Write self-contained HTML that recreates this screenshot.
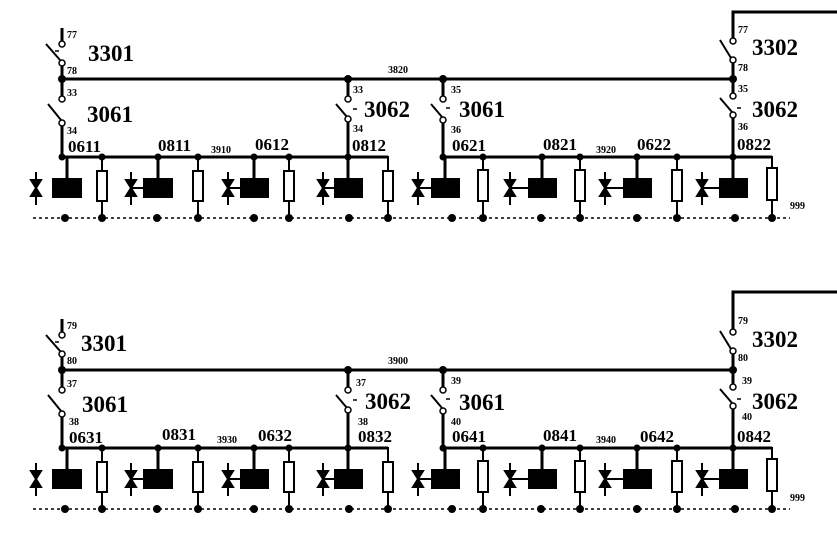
<!DOCTYPE html>
<html><head><meta charset="utf-8"><style>
html,body{margin:0;padding:0;background:#fff}
svg{display:block}
.b{font-family:"Liberation Serif",serif;font-weight:bold;fill:#000}
</style></head><body>
<svg width="837" height="547" viewBox="0 0 837 547" xmlns="http://www.w3.org/2000/svg">
<g id="sh" stroke="#000" fill="none">
  <line x1="62" y1="28" x2="62" y2="41" stroke-width="3"/>
  <circle cx="62" cy="44" r="3" fill="#fff" stroke-width="1.5"/>
  <line x1="46" y1="44" x2="60" y2="60" stroke-width="2"/>
  <line x1="55" y1="51" x2="59" y2="51" stroke-width="1.5"/>
  <circle cx="62" cy="63" r="3" fill="#fff" stroke-width="1.5"/>
  <line x1="62" y1="66" x2="62" y2="79" stroke-width="3"/>
  <line x1="62" y1="79" x2="733" y2="79" stroke-width="3"/>
  <line x1="62" y1="79" x2="62" y2="96" stroke-width="3"/>
  <circle cx="62" cy="99" r="3" fill="#fff" stroke-width="1.5"/>
  <line x1="48" y1="104" x2="61" y2="120" stroke-width="2"/>
  <circle cx="62" cy="123" r="3" fill="#fff" stroke-width="1.5"/>
  <line x1="62" y1="126" x2="62" y2="157" stroke-width="3"/>
  <line x1="348" y1="79" x2="348" y2="96" stroke-width="3"/>
  <circle cx="348" cy="99" r="3" fill="#fff" stroke-width="1.5"/>
  <line x1="336" y1="104" x2="347" y2="117" stroke-width="2"/>
  <line x1="353" y1="109" x2="357" y2="109" stroke-width="1.5"/>
  <circle cx="348" cy="119" r="3" fill="#fff" stroke-width="1.5"/>
  <line x1="348" y1="122" x2="348" y2="157" stroke-width="3"/>
  <line x1="443" y1="79" x2="443" y2="96" stroke-width="3"/>
  <circle cx="443" cy="99" r="3" fill="#fff" stroke-width="1.5"/>
  <line x1="431" y1="104" x2="442" y2="117" stroke-width="2"/>
  <line x1="446" y1="108" x2="450" y2="108" stroke-width="1.5"/>
  <circle cx="443" cy="120" r="3" fill="#fff" stroke-width="1.5"/>
  <line x1="443" y1="123" x2="443" y2="157" stroke-width="3"/>
  <line x1="733" y1="79" x2="733" y2="93" stroke-width="3"/>
  <circle cx="733" cy="96" r="3" fill="#fff" stroke-width="1.5"/>
  <line x1="720" y1="98" x2="732" y2="112" stroke-width="2"/>
  <line x1="737" y1="108" x2="741" y2="108" stroke-width="1.5"/>
  <circle cx="733" cy="115" r="3" fill="#fff" stroke-width="1.5"/>
  <line x1="733" y1="118" x2="733" y2="157" stroke-width="3"/>
  <circle cx="733" cy="41" r="3" fill="#fff" stroke-width="1.5"/>
  <line x1="720" y1="40" x2="731" y2="58" stroke-width="2"/>
  <circle cx="733" cy="60" r="3" fill="#fff" stroke-width="1.5"/>
  <line x1="733" y1="63" x2="733" y2="79" stroke-width="3"/>
  <line x1="62" y1="157" x2="388" y2="157" stroke-width="3"/>
  <line x1="443" y1="157" x2="772" y2="157" stroke-width="3"/>
  <line x1="33" y1="218" x2="790" y2="218" stroke-width="1.5" stroke-dasharray="3 3"/>
</g>
<g id="fd" stroke="#000">
  <g fill="#000" stroke="none">
    <rect x="52" y="178" width="30" height="20"/><rect x="143" y="178" width="30" height="20"/>
    <rect x="240" y="178" width="29" height="20"/><rect x="334" y="178" width="29" height="20"/>
    <rect x="431" y="178" width="29" height="20"/><rect x="528" y="178" width="29" height="20"/>
    <rect x="623" y="178" width="29" height="20"/><rect x="719" y="178" width="29" height="20"/>
  </g>
  <g stroke-width="3">
    <line x1="67" y1="157" x2="67" y2="178"/><line x1="158" y1="157" x2="158" y2="178"/>
    <line x1="254" y1="157" x2="254" y2="178"/><line x1="348" y1="157" x2="348" y2="178"/>
    <line x1="445" y1="157" x2="445" y2="178"/><line x1="542" y1="157" x2="542" y2="178"/>
    <line x1="637" y1="157" x2="637" y2="178"/><line x1="733" y1="157" x2="733" y2="178"/>
  </g>
  <g fill="#fff" stroke-width="2">
    <rect x="97" y="171" width="10" height="30"/><rect x="193" y="171" width="10" height="30"/>
    <rect x="284" y="171" width="10" height="30"/><rect x="383" y="171" width="10" height="30"/>
    <rect x="478" y="170" width="10" height="31"/><rect x="575" y="170" width="10" height="31"/>
    <rect x="672" y="170" width="10" height="31"/><rect x="767" y="168" width="10" height="32"/>
  </g>
  <g stroke-width="2">
    <line x1="102" y1="157" x2="102" y2="171"/><line x1="102" y1="201" x2="102" y2="218"/>
    <line x1="198" y1="157" x2="198" y2="171"/><line x1="198" y1="201" x2="198" y2="218"/>
    <line x1="289" y1="157" x2="289" y2="171"/><line x1="289" y1="201" x2="289" y2="218"/>
    <polyline points="378,157 388,157 388,171" fill="none"/><line x1="388" y1="201" x2="388" y2="218"/>
    <line x1="483" y1="157" x2="483" y2="170"/><line x1="483" y1="201" x2="483" y2="218"/>
    <line x1="580" y1="157" x2="580" y2="170"/><line x1="580" y1="201" x2="580" y2="218"/>
    <line x1="677" y1="157" x2="677" y2="170"/><line x1="677" y1="201" x2="677" y2="218"/>
    <polyline points="762,157 772,157 772,168" fill="none"/><line x1="772" y1="200" x2="772" y2="218"/>
  </g>
  <g stroke-width="2" fill="#000">
    <g><line x1="36" y1="172" x2="36" y2="205"/><path d="M31 180 L41 180 L36 188 Z M31 196 L41 196 L36 188 Z"/></g>
    <g><line x1="131" y1="172" x2="131" y2="205"/><path d="M126 180 L136 180 L131 188 Z M126 196 L136 196 L131 188 Z"/><line x1="131" y1="188" x2="143" y2="188"/></g>
    <g><line x1="228" y1="172" x2="228" y2="205"/><path d="M223 180 L233 180 L228 188 Z M223 196 L233 196 L228 188 Z"/><line x1="228" y1="188" x2="240" y2="188"/></g>
    <g><line x1="323" y1="172" x2="323" y2="205"/><path d="M318 180 L328 180 L323 188 Z M318 196 L328 196 L323 188 Z"/><line x1="323" y1="188" x2="334" y2="188"/></g>
    <g><line x1="418" y1="172" x2="418" y2="205"/><path d="M413 180 L423 180 L418 188 Z M413 196 L423 196 L418 188 Z"/><line x1="418" y1="188" x2="431" y2="188"/></g>
    <g><line x1="510" y1="172" x2="510" y2="205"/><path d="M505 180 L515 180 L510 188 Z M505 196 L515 196 L510 188 Z"/><line x1="510" y1="188" x2="528" y2="188"/></g>
    <g><line x1="605" y1="172" x2="605" y2="205"/><path d="M600 180 L610 180 L605 188 Z M600 196 L610 196 L605 188 Z"/><line x1="605" y1="188" x2="623" y2="188"/></g>
    <g><line x1="702" y1="172" x2="702" y2="205"/><path d="M697 180 L707 180 L702 188 Z M697 196 L707 196 L702 188 Z"/><line x1="702" y1="188" x2="719" y2="188"/></g>
  </g>
  <g fill="#000" stroke="none">
    <circle cx="62" cy="79" r="4"/><circle cx="348" cy="79" r="4"/><circle cx="443" cy="79" r="4"/><circle cx="733" cy="79" r="4"/>
    <circle cx="62" cy="157" r="3.5"/><circle cx="102" cy="157" r="3.5"/><circle cx="158" cy="157" r="3.5"/><circle cx="198" cy="157" r="3.5"/>
    <circle cx="254" cy="157" r="3.5"/><circle cx="289" cy="157" r="3.5"/><circle cx="348" cy="157" r="3.5"/>
    <circle cx="443" cy="157" r="3.5"/><circle cx="483" cy="157" r="3.5"/><circle cx="542" cy="157" r="3.5"/><circle cx="580" cy="157" r="3.5"/>
    <circle cx="637" cy="157" r="3.5"/><circle cx="677" cy="157" r="3.5"/><circle cx="733" cy="157" r="3.5"/>
    <circle cx="65" cy="218" r="4"/><circle cx="102" cy="218" r="4"/><circle cx="157" cy="218" r="4"/><circle cx="198" cy="218" r="4"/>
    <circle cx="254" cy="218" r="4"/><circle cx="289" cy="218" r="4"/><circle cx="349" cy="218" r="4"/><circle cx="388" cy="218" r="4"/>
    <circle cx="452" cy="218" r="4"/><circle cx="483" cy="218" r="4"/><circle cx="541" cy="218" r="4"/><circle cx="580" cy="218" r="4"/>
    <circle cx="637" cy="218" r="4"/><circle cx="677" cy="218" r="4"/><circle cx="735" cy="218" r="4"/><circle cx="772" cy="218" r="4"/>
  </g>
</g>
<polyline points="733,38 733,12 837,12" fill="none" stroke="#000" stroke-width="3"/>
<polyline points="733,329 733,292 837,292" fill="none" stroke="#000" stroke-width="3"/>
<use href="#sh" transform="translate(0,291)"/>
<use href="#fd" transform="translate(0,291)"/>

<g class="b">
<text x="88" y="61" font-size="23">3301</text>
<text x="87" y="122" font-size="23">3061</text>
<text x="364" y="117" font-size="23">3062</text>
<text x="459" y="117" font-size="23">3061</text>
<text x="752" y="55" font-size="23">3302</text>
<text x="752" y="117" font-size="23">3062</text>
<g font-size="10"><text x="67" y="38">77</text><text x="67" y="74">78</text><text x="67" y="96">33</text><text x="67" y="134">34</text>
<text x="353" y="93">33</text><text x="353" y="132">34</text><text x="451" y="93">35</text><text x="451" y="133">36</text>
<text x="738" y="33">77</text><text x="738" y="71">78</text><text x="738" y="92">35</text><text x="738" y="130">36</text>
<text x="388" y="73">3820</text><text x="211" y="153">3910</text><text x="596" y="153">3920</text><text x="790" y="209">999</text></g>
<g font-size="17"><text x="68" y="152">0611</text><text x="158" y="151">0811</text><text x="255" y="150">0612</text><text x="352" y="151">0812</text>
<text x="452" y="151">0621</text><text x="543" y="150">0821</text><text x="637" y="150">0622</text><text x="737" y="150">0822</text></g>
</g>
<g class="b">
<text x="81" y="351" font-size="23">3301</text>
<text x="82" y="412" font-size="23">3061</text>
<text x="365" y="409" font-size="23">3062</text>
<text x="459" y="410" font-size="23">3061</text>
<text x="752" y="347" font-size="23">3302</text>
<text x="752" y="409" font-size="23">3062</text>
<g font-size="10"><text x="67" y="329">79</text><text x="67" y="364">80</text><text x="67" y="387">37</text><text x="69" y="425">38</text>
<text x="356" y="386">37</text><text x="358" y="425">38</text><text x="451" y="384">39</text><text x="451" y="425">40</text>
<text x="738" y="324">79</text><text x="738" y="361">80</text><text x="742" y="384">39</text><text x="742" y="420">40</text>
<text x="388" y="364">3900</text><text x="217" y="443">3930</text><text x="596" y="443">3940</text><text x="790" y="501">999</text></g>
<g font-size="17"><text x="69" y="443">0631</text><text x="162" y="440">0831</text><text x="258" y="441">0632</text><text x="358" y="442">0832</text>
<text x="452" y="442">0641</text><text x="543" y="441">0841</text><text x="640" y="442">0642</text><text x="737" y="442">0842</text></g>
</g>
</svg>
</body></html>
